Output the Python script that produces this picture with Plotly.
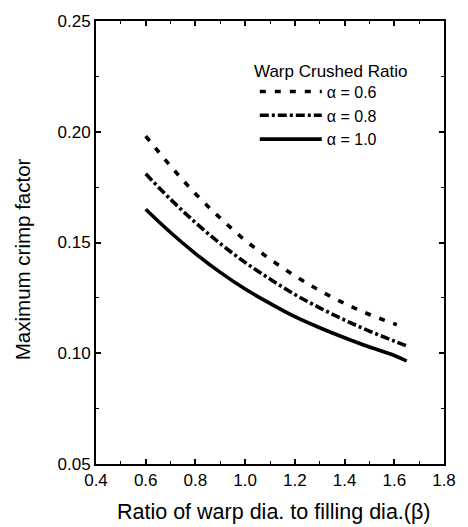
import plotly.graph_objects as go

beta = [0.6, 0.7, 0.8, 0.9, 1.0, 1.1, 1.2, 1.3, 1.4, 1.5, 1.6, 1.65]
beta_06 = [0.6, 0.7, 0.8, 0.9, 1.0, 1.1, 1.2, 1.3, 1.4, 1.5, 1.61]
crimp_a06 = [0.198, 0.1845, 0.172, 0.161, 0.151, 0.1425, 0.135, 0.1283, 0.1225, 0.1175, 0.1129]
crimp_a08 = [0.181, 0.1695, 0.159, 0.1495, 0.141, 0.1335, 0.1265, 0.1205, 0.115, 0.110, 0.1055, 0.1033]
crimp_a10 = [0.165, 0.1545, 0.145, 0.1365, 0.129, 0.1225, 0.1165, 0.1115, 0.107, 0.1028, 0.099, 0.0965]

x_ticks = [0.4, 0.6, 0.8, 1.0, 1.2, 1.4, 1.6, 1.8]
y_ticks = [0.05, 0.10, 0.15, 0.20, 0.25]

FONT = "Liberation Sans, Arial, sans-serif"

fig = go.Figure()
fig.add_trace(go.Scatter(x=beta_06, y=crimp_a06, mode="lines", name="α = 0.6",
                         line=dict(color="black", width=3.6, dash="6px,9px", shape="spline")))
fig.add_trace(go.Scatter(x=beta, y=crimp_a08, mode="lines", name="α = 0.8",
                         line=dict(color="black", width=3.6, dash="9px,3px,3px,3px", shape="spline")))
fig.add_trace(go.Scatter(x=beta, y=crimp_a10, mode="lines", name="α = 1.0",
                         line=dict(color="black", width=3.6, shape="spline")))

axis_common = dict(
    showgrid=False, zeroline=False, showline=True, linecolor="black", linewidth=2,
    mirror="ticks", ticks="inside", ticklen=5, tickwidth=1.5, tickcolor="black",
    tickfont=dict(family=FONT, size=17, color="black"),
    minor=dict(ticks="inside", ticklen=3, tickwidth=1.2, tickcolor="black"),
)

fig.update_xaxes(range=[0.4, 1.8], tickvals=x_ticks, ticktext=[f"{v:.1f}" for v in x_ticks],
                 minor_dtick=0.1, **axis_common)
fig.update_yaxes(range=[0.05, 0.25], tickvals=y_ticks, ticktext=[f"{v:.2f}" for v in y_ticks],
                 minor_dtick=0.025, **axis_common)

fig.add_annotation(text="Ratio of warp dia. to filling dia.(β)", xref="paper", yref="paper",
                   x=0.511, y=-0.108, xanchor="center", yanchor="middle", showarrow=False,
                   font=dict(family=FONT, size=21.5, color="black"))
fig.add_annotation(text="Maximum crimp factor", xref="paper", yref="paper",
                   x=-0.213, y=0.462, xanchor="center", yanchor="middle", showarrow=False,
                   textangle=-90, font=dict(family=FONT, size=20.5, color="black"))
fig.add_annotation(text="Warp Crushed Ratio", xref="paper", yref="paper",
                   x=0.448, y=0.887, xanchor="left", yanchor="middle", showarrow=False,
                   font=dict(family=FONT, size=17, color="black"))

fig.update_layout(
    width=468, height=527,
    margin=dict(l=96, r=17, t=14, b=63),
    paper_bgcolor="white", plot_bgcolor="white",
    font=dict(family=FONT, color="black"),
    showlegend=True,
    legend=dict(
        x=0.4563, y=0.879, xanchor="left", yanchor="top",
        bgcolor="rgba(0,0,0,0)",
        font=dict(family=FONT, size=16, color="black"),
        itemwidth=62,
    ),
)

fig.write_html("out.html")
